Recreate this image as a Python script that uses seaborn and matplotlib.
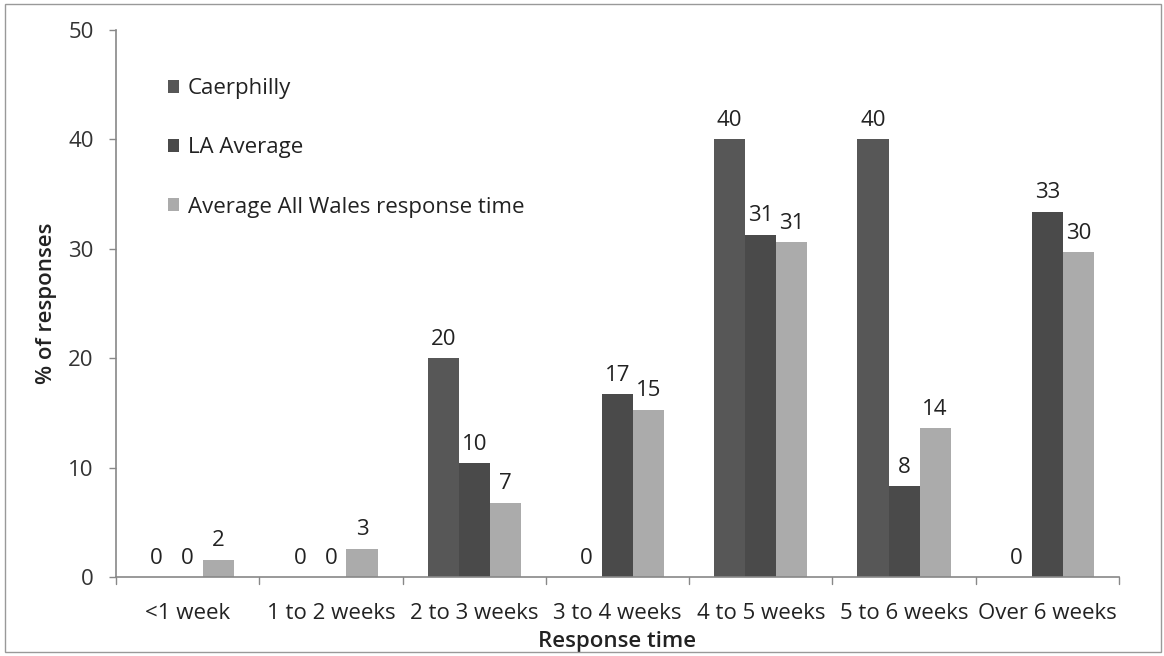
import matplotlib
matplotlib.use("Agg")
import matplotlib.pyplot as plt
from matplotlib.patches import Rectangle
import seaborn as sns
import pandas as pd

categories = ["<1 week", "1 to 2 weeks", "2 to 3 weeks", "3 to 4 weeks",
              "4 to 5 weeks", "5 to 6 weeks", "Over 6 weeks"]
series_names = ["Caerphilly", "LA Average", "Average All Wales response time"]
caerphilly = [0, 0, 20, 0, 40, 40, 0]
la_average = [0, 0, 10.4, 16.7, 31.3, 8.3, 33.4]
all_wales = [1.6, 2.6, 6.8, 15.3, 30.6, 13.6, 29.7]
y_ticks = [0, 10, 20, 30, 40, 50]

colors = ["#575757", "#4a4a4a", "#ababab"]

rows = []
for name, vals in zip(series_names, [caerphilly, la_average, all_wales]):
    for cat, v in zip(categories, vals):
        rows.append({"Response time": cat, "value": v, "series": name})
df = pd.DataFrame(rows)

sns.set_theme(style="white")
plt.rcParams["font.family"] = ["Open Sans", "DejaVu Sans"]
FS = 16

fig = plt.figure(figsize=(11.64, 6.56), dpi=100)
ax = fig.add_axes([0.0997, 0.1204, 0.8616, 0.8339])

sns.barplot(data=df, x="Response time", y="value", hue="series",
            order=categories, hue_order=series_names, palette=colors,
            saturation=1, width=0.65, errorbar=None, ax=ax, linewidth=0)

for cont in ax.containers:
    ax.bar_label(cont, fmt="%.0f", padding=6, fontsize=FS, color="#222222")

ax.set_ylim(0, 50)
ax.set_xlim(-0.5, len(categories) - 0.5)
ax.set_yticks(y_ticks)
ax.tick_params(axis="y", labelsize=FS, labelcolor="#333333", length=5,
               width=1, direction="out", left=True, pad=11, color="#888888")
ax.set_xticks(range(len(categories)))
ax.set_xticklabels(categories, fontsize=FS, color="#222222")
ax.tick_params(axis="x", length=0, pad=19)
# boundary ticks between categories
for b in [i - 0.5 for i in range(len(categories) + 1)]:
    ax.plot([b, b], [0, -0.013], transform=ax.get_xaxis_transform(),
            color="#888888", lw=1, clip_on=False)

ax.set_xlabel("Response time", fontsize=FS, fontweight="semibold",
              color="#222222", labelpad=5)
ax.set_ylabel("% of responses", fontsize=FS, fontweight="semibold",
              color="#222222", labelpad=8)

sns.despine(ax=ax)
for s in ["left", "bottom"]:
    ax.spines[s].set_color("#888888")
    ax.spines[s].set_linewidth(1.2)

leg = ax.legend(loc="upper left", bbox_to_anchor=(0.043, 0.928), frameon=False,
                fontsize=FS, handlelength=0.5, handleheight=0.5,
                handletextpad=0.4, labelspacing=1.72, borderaxespad=0)
for t in leg.get_texts():
    t.set_color("#222222")

fig.patches.append(Rectangle((5 / 1164, 4 / 656), 1156 / 1164, 648 / 656,
                             transform=fig.transFigure, fill=False,
                             edgecolor="#999999", lw=1))

fig.savefig("out.png", dpi=100)
